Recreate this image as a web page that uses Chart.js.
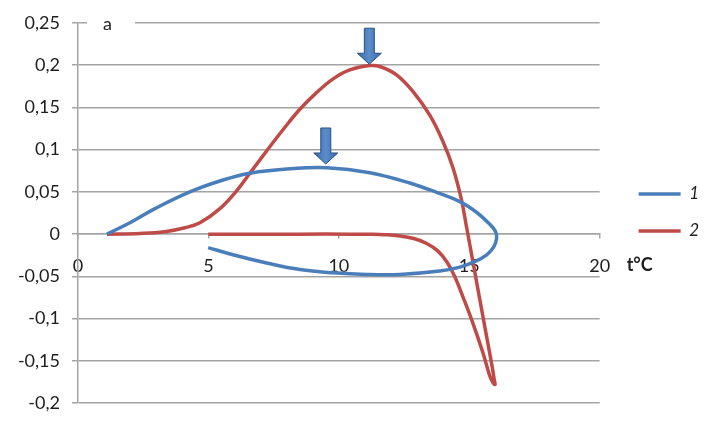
<!DOCTYPE html>
<html><head><meta charset="utf-8">
<script src="https://cdn.jsdelivr.net/npm/chart.js@4"></script>
<style>html,body{margin:0;padding:0;background:#fff;}canvas{display:block;}</style>
</head><body>
<canvas id="c" width="713" height="426"></canvas>
<script>
// ---- data ----
const seriesLabels = ['1', '2'];
const s1x = [1.11, 1.99, 2.95, 4.29, 5.56, 6.59, 8.12, 9.54, 11.19, 12.72, 13.75, 14.64, 15.29, 15.75, 16.0, 16.05, 15.94, 15.67, 15.21, 14.64, 13.87, 12.34, 11.06, 9.77, 8.51, 7.23, 5.94, 4.99];
const s1y = [0, 0.0134, 0.0302, 0.0500, 0.0640, 0.0721, 0.0773, 0.0785, 0.0727, 0.0605, 0.0494, 0.0384, 0.0256, 0.0128, 0.0035, -0.0047, -0.0151, -0.0244, -0.0326, -0.0390, -0.0437, -0.0477, -0.0477, -0.0457, -0.0419, -0.0341, -0.0244, -0.0159];
const s2x = [1.111, 2.375, 3.333, 4.100, 4.674, 5.441, 6.080, 6.590, 7.230, 7.866, 8.506, 9.146, 9.782, 10.421, 11.188, 11.571, 12.211, 12.847, 13.487, 13.996, 14.379, 14.693, 14.885, 15.134, 15.402, 15.651, 15.881, 15.958, 15.989, 15.920, 15.785, 15.529, 15.146, 14.762, 14.444, 14.138, 13.793, 13.372, 12.874, 12.337, 11.762, 11.188, 10.421, 8.506, 6.590, 4.992];
const s2y = [0, 0.0008, 0.0029, 0.0076, 0.0134, 0.0302, 0.0512, 0.0721, 0.0983, 0.1238, 0.1477, 0.1674, 0.1837, 0.1942, 0.1994, 0.1983, 0.1884, 0.1686, 0.1407, 0.1093, 0.0783, 0.0419, 0.0105, -0.0314, -0.0767, -0.1186, -0.1570, -0.1721, -0.1779, -0.1762, -0.1674, -0.1407, -0.1058, -0.0744, -0.0500, -0.0326, -0.0198, -0.0110, -0.0052, -0.0021, -0.0007, -0.0002, 0, 0, 0, 0];
const xTicks = [0, 5, 10, 15, 20];
const xTickLabels = ['0', '5', '10', '15', '20'];
const yTicks = [-0.2, -0.15, -0.1, -0.05, 0, 0.05, 0.1, 0.15, 0.2, 0.25];
const yTickLabels = ['-0,2', '-0,15', '-0,1', '-0,05', '0', '0,05', '0,1', '0,15', '0,2', '0,25'];
const arrowTipX = [9.5, 11.17];
const arrowTipY = [0.083, 0.201];
const panelLabel = 'a';
const axisTitle = 't°C';

// ---- chart ----
const BLUE = '#4a7ebb', RED = '#be4b48', GRID = '#a4a4a4', TXT = '#1e1e1e';
Chart.defaults.font.family = 'Lato';
Chart.defaults.color = TXT;

const toPts = (xs, ys) => xs.map((x, i) => ({x, y: ys[i]}));

const deco = {
  id: 'deco',
  beforeDraw(chart) {
    const lg = chart.legend;
    if (lg) { const l = chart.chartArea.right + 19; lg.left = l; lg.right = l + lg.width; }
  },
  afterDatasetsDraw(chart) {
    const {ctx, scales: {x, y}} = chart;
    ctx.save();
    arrowTipX.forEach((vx, i) => {
      const px = x.getPixelForValue(vx), py = y.getPixelForValue(arrowTipY[i]);
      const H = 36, hh = 11, sw = 5, hw = 12;
      const g = ctx.createLinearGradient(px - hw, 0, px + hw, 0);
      g.addColorStop(0, '#3a69a6'); g.addColorStop(0.5, '#5a8dcc'); g.addColorStop(1, '#3a69a6');
      ctx.beginPath();
      ctx.moveTo(px - sw, py - H); ctx.lineTo(px + sw, py - H); ctx.lineTo(px + sw, py - hh);
      ctx.lineTo(px + hw, py - hh); ctx.lineTo(px, py); ctx.lineTo(px - hw, py - hh);
      ctx.lineTo(px - sw, py - hh); ctx.closePath();
      ctx.fillStyle = g; ctx.fill();
      ctx.strokeStyle = '#2c5180'; ctx.lineWidth = 1; ctx.stroke();
    });
    ctx.restore();
  },
  afterDraw(chart) {
    const {ctx, chartArea, scales: {x, y}} = chart;
    ctx.save();
    const ty = y.getPixelForValue(0.25);
    ctx.fillStyle = '#fff';
    ctx.fillRect(chartArea.left + 9, ty - 6, 48, 12);
    ctx.fillStyle = TXT;
    ctx.font = '18px Lato';
    ctx.textAlign = 'left'; ctx.textBaseline = 'middle';
    ctx.fillText(panelLabel, chartArea.left + 25, ty + 1);
    ctx.font = 'bold 18px Lato';
    ctx.fillText(axisTitle, chartArea.right + 27, y.getPixelForValue(0) + 31);
    ctx.restore();
  }
};

new Chart(document.getElementById('c'), {
  type: 'scatter',
  data: {
    datasets: [
      {label: seriesLabels[0], data: toPts(s1x, s1y), showLine: true, borderColor: BLUE, backgroundColor: BLUE, borderWidth: 3.5, pointRadius: 0, tension: 0.4, fill: false},
      {label: seriesLabels[1], data: toPts(s2x, s2y), showLine: true, borderColor: RED, backgroundColor: RED, borderWidth: 3.5, pointRadius: 0, tension: 0.4, fill: false}
    ]
  },
  options: {
    responsive: false,
    animation: false,
    layout: {padding: {top: 19, bottom: 20, left: 0, right: 23}},
    plugins: {
      legend: {
        position: 'right',
        labels: {usePointStyle: true, pointStyle: 'line', pointStyleWidth: 42, padding: 20, color: TXT, font: {size: 17, style: 'italic'}}
      },
      tooltip: {enabled: false}
    },
    scales: {
      x: {
        type: 'linear', min: 0, max: 20,
        position: {y: 0},
        afterBuildTicks: s => { s.ticks = xTicks.map(v => ({value: v})); },
        ticks: {callback: (v) => { const i = xTicks.indexOf(v); return i >= 0 ? xTickLabels[i] : ''; }, padding: 17, maxRotation: 0, font: {size: 18}, color: TXT},
        grid: {drawOnChartArea: false, drawTicks: true, tickLength: 4, color: GRID, lineWidth: 1.5},
        border: {display: true, color: GRID, width: 1.5}
      },
      y: {
        type: 'linear', min: -0.2, max: 0.25,
        afterBuildTicks: s => { s.ticks = yTicks.map(v => ({value: v})); },
        afterFit: s => { s.width = 78; },
        ticks: {callback: (v) => { const i = yTicks.findIndex(t => Math.abs(t - v) < 1e-9); return i >= 0 ? yTickLabels[i] : ''; }, padding: 12, font: {size: 18}, color: TXT},
        grid: {color: GRID, lineWidth: 1.5, tickLength: 6, drawTicks: true},
        border: {display: true, color: GRID, width: 1.5}
      }
    }
  },
  plugins: [deco]
});
</script>
</body></html>
